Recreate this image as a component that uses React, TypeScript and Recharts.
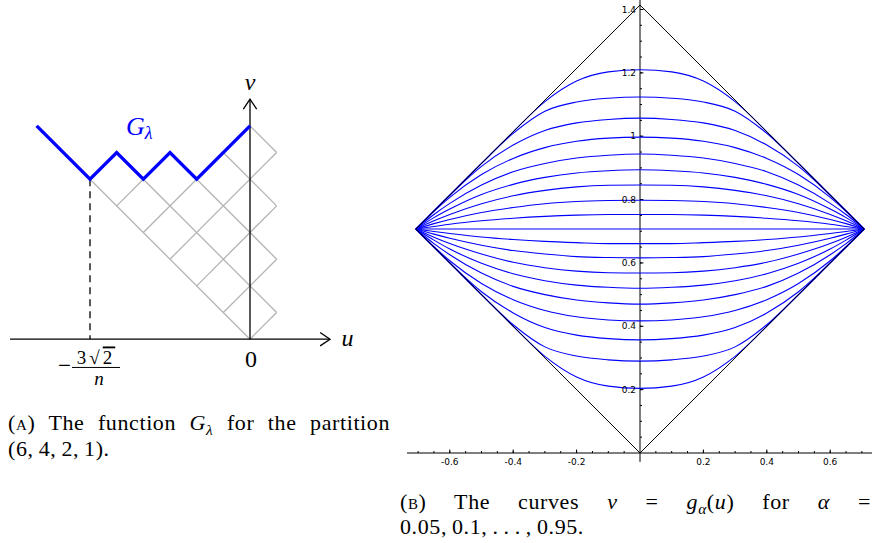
import React from 'react';
import { LineChart, Line, XAxis, YAxis, ReferenceLine, ReferenceDot } from 'recharts';

// ---------- panel (A): diagram of (6,4,2,1), unit = half a cell diagonal ----------
const cellEdges: [number, number, number, number][] = [
  [-6, 6, 0, 0],
  [-4, 6, 1, 1],
  [-2, 6, 1, 3],
  [-1, 7, 1, 5],
  [0, 8, 1, 7],
  [0, 0, 1, 1],
  [-1, 1, 1, 3],
  [-2, 2, 1, 5],
  [-3, 3, 1, 7],
  [-4, 4, -2, 6],
  [-5, 5, -4, 6],
];
const gLambdaU = [-8, -6, -5, -4, -3, -2, 0];
const gLambdaV = [8, 6, 7, 6, 7, 6, 8];
const dashedU = [-6, -6];
const dashedV = [6, 0];
const uAxisEnds = [-9, 3];
const vAxisEnds = [0, 9];

// ---------- panel (B): curves v = g_alpha(u) ----------
const uGrid = [-0.707, -0.65, -0.6, -0.5, -0.4, -0.3, -0.2, -0.1, 0, 0.1, 0.2, 0.3, 0.4, 0.5, 0.6, 0.65, 0.707];
const g95 = [0.707, 0.764, 0.814, 0.914, 1.014, 1.109, 1.174, 1.203, 1.21, 1.203, 1.174, 1.109, 1.014, 0.914, 0.814, 0.764, 0.707];
const g90 = [0.707, 0.764, 0.814, 0.914, 1.009, 1.079, 1.108, 1.12, 1.124, 1.12, 1.108, 1.079, 1.009, 0.914, 0.814, 0.764, 0.707];
const g85 = [0.707, 0.764, 0.814, 0.905, 0.972, 1.018, 1.042, 1.053, 1.057, 1.053, 1.042, 1.018, 0.972, 0.905, 0.814, 0.764, 0.707];
const g80 = [0.707, 0.763, 0.807, 0.879, 0.93, 0.964, 0.984, 0.994, 0.997, 0.994, 0.984, 0.964, 0.93, 0.879, 0.807, 0.763, 0.707];
const g75 = [0.707, 0.753, 0.788, 0.846, 0.888, 0.914, 0.931, 0.94, 0.944, 0.94, 0.931, 0.914, 0.888, 0.846, 0.788, 0.753, 0.707];
const g70 = [0.707, 0.743, 0.770, 0.816, 0.848, 0.870, 0.884, 0.891, 0.894, 0.891, 0.884, 0.870, 0.848, 0.816, 0.770, 0.743, 0.707];
const g65 = [0.707, 0.733, 0.753, 0.787, 0.812, 0.829, 0.840, 0.845, 0.846, 0.845, 0.840, 0.829, 0.812, 0.787, 0.753, 0.733, 0.707];
const g60 = [0.707, 0.724, 0.737, 0.759, 0.775, 0.787, 0.794, 0.797, 0.798, 0.797, 0.794, 0.787, 0.775, 0.759, 0.737, 0.724, 0.707];
const g55 = [0.707, 0.715, 0.722, 0.733, 0.741, 0.747, 0.751, 0.753, 0.753, 0.753, 0.751, 0.747, 0.741, 0.733, 0.722, 0.715, 0.707];
const g50 = [0.707, 0.707, 0.707, 0.707, 0.707, 0.707, 0.707, 0.707, 0.707, 0.707, 0.707, 0.707, 0.707, 0.707, 0.707, 0.707, 0.707];
const g45 = [0.707, 0.699, 0.693, 0.682, 0.674, 0.668, 0.664, 0.661, 0.661, 0.661, 0.664, 0.668, 0.674, 0.682, 0.693, 0.699, 0.707];
const g40 = [0.707, 0.691, 0.678, 0.656, 0.639, 0.628, 0.620, 0.617, 0.616, 0.617, 0.620, 0.628, 0.639, 0.656, 0.678, 0.691, 0.707];
const g35 = [0.707, 0.681, 0.661, 0.628, 0.602, 0.585, 0.574, 0.569, 0.568, 0.569, 0.574, 0.585, 0.602, 0.628, 0.661, 0.681, 0.707];
const g30 = [0.707, 0.672, 0.644, 0.599, 0.566, 0.544, 0.530, 0.523, 0.520, 0.523, 0.530, 0.544, 0.566, 0.599, 0.644, 0.672, 0.707];
const g25 = [0.707, 0.661, 0.626, 0.568, 0.526, 0.500, 0.483, 0.474, 0.470, 0.474, 0.483, 0.500, 0.526, 0.568, 0.626, 0.661, 0.707];
const g20 = [0.707, 0.651, 0.607, 0.535, 0.484, 0.450, 0.430, 0.420, 0.417, 0.420, 0.430, 0.450, 0.484, 0.535, 0.607, 0.651, 0.707];
const g15 = [0.707, 0.650, 0.600, 0.509, 0.442, 0.396, 0.372, 0.361, 0.357, 0.361, 0.372, 0.396, 0.442, 0.509, 0.600, 0.650, 0.707];
const g10 = [0.707, 0.650, 0.600, 0.500, 0.405, 0.335, 0.306, 0.294, 0.290, 0.294, 0.306, 0.335, 0.405, 0.500, 0.600, 0.650, 0.707];
const g05 = [0.707, 0.650, 0.600, 0.500, 0.400, 0.305, 0.240, 0.211, 0.204, 0.211, 0.240, 0.305, 0.400, 0.500, 0.600, 0.650, 0.707];
const curves = [g95, g90, g85, g80, g75, g70, g65, g60, g55, g50, g45, g40, g35, g30, g25, g20, g15, g10, g05];

const diamondU = [-0.707, 0, 0.707, 0, -0.707];
const diamondV = [0.707, 1.414, 0.707, 0, 0.707];
const xTickLabels = [-0.6, -0.4, -0.2, 0.2, 0.4, 0.6];
const yTickLabels = [0.2, 0.4, 0.6, 0.8, 1, 1.2, 1.4];
const xMinorTicks = [-0.7, -0.65, -0.6, -0.55, -0.5, -0.45, -0.4, -0.35, -0.3, -0.25, -0.2, -0.15, -0.1, -0.05,
  0.05, 0.1, 0.15, 0.2, 0.25, 0.3, 0.35, 0.4, 0.45, 0.5, 0.55, 0.6, 0.65, 0.7];
const yMinorTicks = [0.05, 0.1, 0.15, 0.2, 0.25, 0.3, 0.35, 0.4, 0.45, 0.5, 0.55, 0.6, 0.65, 0.7,
  0.75, 0.8, 0.85, 0.9, 0.95, 1, 1.05, 1.1, 1.15, 1.2, 1.25, 1.3, 1.35, 1.4];

const pts = (us: number[], vs: number[]) => us.map((u, i) => ({ u, v: vs[i] }));

const SERIF = '"Liberation Serif", serif';
const BLUE = '#0000ff';

// label drawn at the pixel position of a ReferenceDot
const mathAt = (draw: (x: number, y: number) => React.ReactNode) => (props: any) => {
  const vb = props.viewBox || { x: 0, y: 0, width: 0, height: 0 };
  return <g>{draw(vb.x + (vb.width || 0) / 2, vb.y + (vb.height || 0) / 2)}</g>;
};

function DiagramPanel() {
  const seg = (e: [number, number, number, number]) => [{ u: e[0], v: e[1] }, { u: e[2], v: e[3] }];
  const line = { dot: false, activeDot: false, isAnimationActive: false, type: 'linear' as const, dataKey: 'v' };
  return (
    <LineChart width={400} height={400} margin={{ top: 0, right: 0, bottom: 0, left: 0 }}>
      <XAxis type="number" dataKey="u" domain={[-9.375, 5.625]} allowDataOverflow hide />
      <YAxis type="number" domain={[-2.28, 12.72]} allowDataOverflow hide />
      {cellEdges.map((e, i) => (
        <Line key={'c' + i} {...line} data={seg(e)} stroke="#b4b4b4" strokeWidth={1.3} />
      ))}
      <Line {...line} data={pts(uAxisEnds, [0, 0])} stroke="#000" strokeWidth={1.3} />
      <Line {...line} data={pts([0, 0], vAxisEnds)} stroke="#000" strokeWidth={1.3} />
      <Line {...line} data={pts([2.63, 3, 2.63], [0.25, 0, -0.25])} stroke="#000" strokeWidth={1.3} />
      <Line {...line} data={pts([-0.25, 0, 0.25], [8.63, 9, 8.63])} stroke="#000" strokeWidth={1.3} />
      <Line {...line} data={pts(dashedU, dashedV)} stroke="#000" strokeWidth={1.3} strokeDasharray="7 5" />
      <Line {...line} data={pts(gLambdaU, gLambdaV)} stroke={BLUE} strokeWidth={3.4} />
      <ReferenceDot x={0} y={9.345} r={0} label={{ content: mathAt((x, y) => (
        <text x={x} y={y} textAnchor="middle" fontFamily={SERIF} fontStyle="italic" fontSize={24} fill="#000">v</text>
      )) }} />
      <ReferenceDot x={3.656} y={-0.255} r={0} label={{ content: mathAt((x, y) => (
        <text x={x} y={y} textAnchor="middle" fontFamily={SERIF} fontStyle="italic" fontSize={24} fill="#000">u</text>
      )) }} />
      <ReferenceDot x={0.04} y={-1.04} r={0} label={{ content: mathAt((x, y) => (
        <text x={x} y={y} textAnchor="middle" fontFamily={SERIF} fontSize={24} fill="#000">0</text>
      )) }} />
      <ReferenceDot x={-4.65} y={7.657} r={0} label={{ content: mathAt((x, y) => (
        <text x={x} y={y} fontFamily={SERIF} fontStyle="italic" fontSize={26} fill={BLUE}>
          G<tspan fontSize={18} dy={4}>λ</tspan>
        </text>
      )) }} />
      <ReferenceDot x={-5.775} y={-1.06} r={0} label={{ content: mathAt((x, y) => (
        <g>
          <text x={x - 38} y={y + 6} fontFamily={SERIF} fontSize={23} fill="#000">−</text>
          <text x={x} y={y - 3} textAnchor="middle" fontFamily={SERIF} fontSize={19} letterSpacing={3} fill="#000">
            3√<tspan textDecoration="overline">2</tspan>
          </text>
          <line x1={x - 24} x2={x + 24} y1={y} y2={y} stroke="#000" strokeWidth={1} />
          <text x={x + 3} y={y + 18} textAnchor="middle" fontFamily={SERIF} fontStyle="italic" fontSize={19} fill="#000">n</text>
        </g>
      )) }} />
    </LineChart>
  );
}

const MAJOR = 0.011;
const MINOR = 0.0063;
const tickFont = { fontSize: 9, fill: '#000', fontFamily: '"DejaVu Sans", sans-serif' };

function CurvesPanel() {
  return (
    <LineChart width={473} height={483} margin={{ top: 0, right: 0, bottom: 0, left: 7 }}>
      <XAxis
        type="number"
        dataKey="u"
        domain={[-0.735, 0.735]}
        allowDataOverflow
        ticks={xTickLabels}
        interval={0}
        tickFormatter={(t: number) => String(t)}
        axisLine={{ stroke: '#000', strokeWidth: 1 }}
        tickLine={false}
        tickSize={3}
        tickMargin={3}
        tick={tickFont}
        height={30}
      />
      <YAxis type="number" domain={[0, 1.43]} allowDataOverflow hide />
      <ReferenceLine segment={[{ x: 0, y: -0.028 }, { x: 0, y: 1.43 }]} stroke="#000" strokeWidth={1} ifOverflow="visible" />
      {xMinorTicks.map((t) => (
        <ReferenceLine key={'xm' + t} segment={[{ x: t, y: 0 }, { x: t, y: MINOR }]} stroke="#000" strokeWidth={1} ifOverflow="visible" />
      ))}
      {xTickLabels.map((t) => (
        <ReferenceLine key={'xM' + t} segment={[{ x: t, y: 0 }, { x: t, y: MAJOR }]} stroke="#000" strokeWidth={1} ifOverflow="visible" />
      ))}
      {yMinorTicks.map((t) => (
        <ReferenceLine key={'ym' + t} segment={[{ x: 0, y: t }, { x: MINOR, y: t }]} stroke="#000" strokeWidth={1} ifOverflow="visible" />
      ))}
      {yTickLabels.map((t) => (
        <ReferenceLine
          key={'yM' + t}
          segment={[{ x: 0, y: t }, { x: MAJOR, y: t }]}
          stroke="#000"
          strokeWidth={1}
          ifOverflow="visible"
          label={{ value: String(t), position: 'left', offset: 4, ...tickFont }}
        />
      ))}
      {curves.map((c, i) => (
        <Line
          key={'g' + i}
          data={pts(uGrid, c)}
          dataKey="v"
          type="monotone"
          stroke={BLUE}
          strokeWidth={1.1}
          dot={false}
          activeDot={false}
          isAnimationActive={false}
        />
      ))}
      <Line data={pts(diamondU, diamondV)} dataKey="v" type="linear" stroke="#000" strokeWidth={1} dot={false} activeDot={false} isAnimationActive={false} />
    </LineChart>
  );
}

const sub: React.CSSProperties = { fontSize: '0.7em', verticalAlign: '-0.3em', lineHeight: 0 };
const sc: React.CSSProperties = { fontVariant: 'small-caps' };

export default function App() {
  return (
    <div style={{ position: 'fixed', left: 0, top: 0, width: 872, height: 543, overflow: 'hidden', background: '#fff' }}>
      <div style={{ position: 'absolute', left: 0, top: 0 }}>
        <DiagramPanel />
      </div>
      <div style={{ position: 'absolute', left: 400, top: 0 }}>
        <CurvesPanel />
      </div>
      <div style={{ position: 'absolute', left: 8, top: 409.5, width: 382, fontFamily: SERIF, fontSize: 22, lineHeight: '26px', letterSpacing: 0.6, color: '#000' }}>
        <div style={{ textAlign: 'justify', textAlignLast: 'justify' }}>
          (<span style={sc}>a</span>) The function <i>G</i><i style={sub}>λ</i> for the partition
        </div>
        <div>(6,{'\u2009'}4,{'\u2009'}2,{'\u2009'}1).</div>
      </div>
      <div style={{ position: 'absolute', left: 400, top: 488.5, width: 471, fontFamily: SERIF, fontSize: 22, lineHeight: '25px', letterSpacing: 0.6, color: '#000' }}>
        <div style={{ textAlign: 'justify', textAlignLast: 'justify' }}>
          (<span style={sc}>b</span>) The curves <i>v</i> = <i>g</i><i style={sub}>α</i>(<i>u</i>) for <i>α</i> =
        </div>
        <div>0.05,{'\u2009'}0.1,{'\u2009'}.{'\u2009'}.{'\u2009'}.{'\u2009'},{'\u2009'}0.95.</div>
      </div>
    </div>
  );
}
